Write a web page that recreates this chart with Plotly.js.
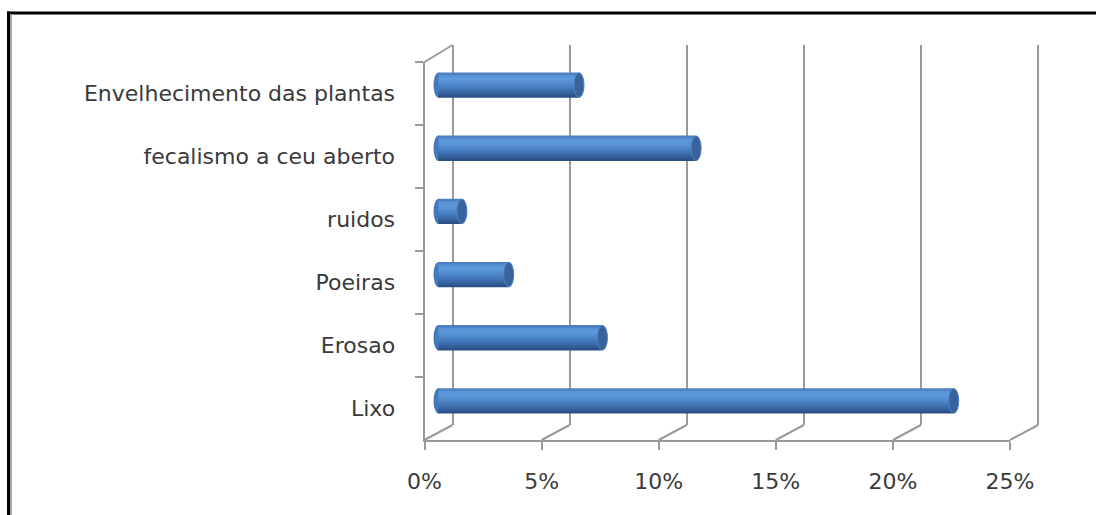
<!DOCTYPE html>
<html>
<head>
<meta charset="utf-8">
<script src="https://cdn.plot.ly/plotly-3.0.1.min.js"></script>
<style>
  html, body { margin: 0; padding: 0; background: #ffffff; }
  #chart { width: 1096px; height: 515px; }
</style>
</head>
<body>
<div id="chart"></div>
<script>
// ---- data ----
const categories = ['Lixo', 'Erosao', 'Poeiras', 'ruidos', 'fecalismo a ceu aberto', 'Envelhecimento das plantas'];
const values = [22, 7, 3, 1, 11, 6];            // percent
const tickVals = [0, 5, 10, 15, 20, 25];
const tickLabels = ['0%', '5%', '10%', '15%', '20%', '25%'];

// ---- geometry / style ----
const W = 1096, H = 515;
const px = x => x / W;
const py = y => 1 - y / H;
const front = { x0: 424.5, x1: 1010, yt: 62, yb: 440 };
const back  = { x0: 452.5, x1: 1038, yt: 45, yb: 425 };
const mid   = { x0: (front.x0 + back.x0) / 2, x1: (front.x1 + back.x1) / 2,
                yt: (front.yt + back.yt) / 2, yb: (front.yb + back.yb) / 2 };
const xMax = 25;
const unitPx = (mid.x1 - mid.x0) / xMax;
const depth = (back.x0 - front.x0) / 2 / unitPx;   // half-depth offset in data units
const pad = 1.5;                                   // extra data units around axes (avoid clipping)
const gridColor = '#9a9a9a';
const textColor = '#3a3a3a';
const fontFam = 'DejaVu Sans, Liberation Sans, sans-serif';

const barW = 0.4;
const stripeColors = ['#2c5186', '#335e98', '#3a6aa8', '#4276b7', '#4a81c4',
                      '#518bce', '#5893d6', '#5c98db', '#5993d6', '#4d80c0'];
const n = stripeColors.length;
const step = barW / n;
const capDx = 5 / unitPx;

const traces = [];
// back wall grid helper trace (xy)
traces.push({ type: 'scatter', x: [0], y: [0], xaxis: 'x', yaxis: 'y', mode: 'markers',
  marker: { opacity: 0 }, hoverinfo: 'skip', showlegend: false });
// front axes helper trace (x2y2)
traces.push({ type: 'scatter', x: values, y: categories, xaxis: 'x2', yaxis: 'y2', mode: 'markers',
  marker: { opacity: 0 }, hoverinfo: 'skip', showlegend: false });
// cylinder bars as shaded stripes (x3y3)
stripeColors.forEach((c, k) => {
  traces.push({
    type: 'bar', orientation: 'h', x: values, y: categories, xaxis: 'x3', yaxis: 'y3',
    width: k < n - 1 ? step * 1.6 : step, offset: -barW / 2 + k * step,
    marker: { color: c, line: { width: 0 } },
    hoverinfo: 'skip', showlegend: false
  });
});

const shapes = [];
// left (rounded) end of each cylinder
values.forEach((v, i) => {
  shapes.push({ type: 'circle', xref: 'x3', yref: 'y3', layer: 'below',
    x0: -capDx, x1: capDx, y0: i - barW / 2, y1: i + barW / 2,
    fillcolor: '#4679bb', line: { width: 0 } });
});
// right end caps
values.forEach((v, i) => {
  shapes.push({ type: 'circle', xref: 'x3', yref: 'y3', layer: 'above',
    x0: v - capDx, x1: v + capDx, y0: i - barW / 2 + 0.005, y1: i + barW / 2 - 0.005,
    fillcolor: '#3a639b', line: { color: '#4f82c0', width: 1 } });
});
// floor depth lines at each tick
tickVals.forEach(t => {
  shapes.push({ type: 'line', xref: 'x3', yref: 'paper', layer: 'below',
    x0: t - depth, y0: py(front.yb), x1: t + depth, y1: py(back.yb),
    line: { color: gridColor, width: 2 } });
});
// top depth line of left wall
shapes.push({ type: 'line', xref: 'x3', yref: 'paper', layer: 'below',
  x0: -depth, y0: py(front.yt), x1: depth, y1: py(back.yt),
  line: { color: gridColor, width: 2 } });
// outer frame (black border with gray inner shadow)
shapes.push({ type: 'line', xref: 'paper', yref: 'paper', x0: px(7), x1: 1, y0: py(13), y1: py(13),
  line: { color: '#000000', width: 3 } });
shapes.push({ type: 'line', xref: 'paper', yref: 'paper', x0: px(8.5), x1: px(8.5), y0: py(11.5), y1: 0,
  line: { color: '#000000', width: 3 } });
shapes.push({ type: 'line', xref: 'paper', yref: 'paper', x0: px(11), x1: px(11), y0: py(14.5), y1: 0,
  line: { color: '#a8a8a8', width: 2 } });

const backUnit = (back.x1 - back.x0) / xMax;
const layout = {
  width: W, height: H,
  margin: { l: 0, r: 0, t: 0, b: 0, pad: 0 },
  paper_bgcolor: '#ffffff', plot_bgcolor: 'rgba(0,0,0,0)',
  showlegend: false, barmode: 'overlay', hovermode: false,
  font: { family: fontFam, color: textColor },
  // back wall: vertical gridlines (range padded so edge lines are kept)
  xaxis: { domain: [px(back.x0 - pad * backUnit), px(back.x1 + pad * backUnit)],
    range: [-pad, xMax + pad], tickvals: tickVals,
    showgrid: true, gridcolor: gridColor, gridwidth: 2, zeroline: false,
    showline: false, ticks: '', showticklabels: false, anchor: 'y', fixedrange: true },
  yaxis: { domain: [py(back.yb), py(back.yt)], range: [0, 1], visible: false,
    anchor: 'x', fixedrange: true },
  // front axes with ticks and labels
  xaxis2: { domain: [px(front.x0), px(front.x1)], range: [0, xMax], tickvals: tickVals,
    ticktext: tickLabels, showgrid: false, zeroline: false, showline: true,
    linecolor: gridColor, linewidth: 2, ticks: 'outside', ticklen: 8, tickwidth: 2,
    tickcolor: gridColor, ticklabelstandoff: 13,
    tickfont: { size: 22, color: textColor, family: fontFam }, anchor: 'y2', fixedrange: true },
  yaxis2: { domain: [py(front.yb), py(front.yt)], type: 'category', categoryorder: 'array',
    categoryarray: categories, range: [-0.5, categories.length - 0.5],
    showgrid: false, zeroline: false, showline: true, linecolor: gridColor, linewidth: 2,
    ticks: 'outside', tickson: 'boundaries', ticklen: 8, tickwidth: 2, tickcolor: gridColor,
    ticklabelstandoff: 23, tickfont: { size: 22, color: textColor, family: fontFam },
    anchor: 'x2', fixedrange: true },
  // mid plane: bars (range padded so end caps / depth lines are not clipped)
  xaxis3: { domain: [px(mid.x0 - pad * unitPx), px(mid.x1 + pad * unitPx)],
    range: [-pad, xMax + pad], visible: false, anchor: 'y3', fixedrange: true },
  yaxis3: { domain: [py(mid.yb), py(mid.yt)], type: 'category', categoryorder: 'array',
    categoryarray: categories, range: [-0.5, categories.length - 0.5], visible: false,
    anchor: 'x3', fixedrange: true },
  shapes: shapes
};

Plotly.newPlot('chart', traces, layout, { staticPlot: true, displayModeBar: false });
</script>
</body>
</html>
